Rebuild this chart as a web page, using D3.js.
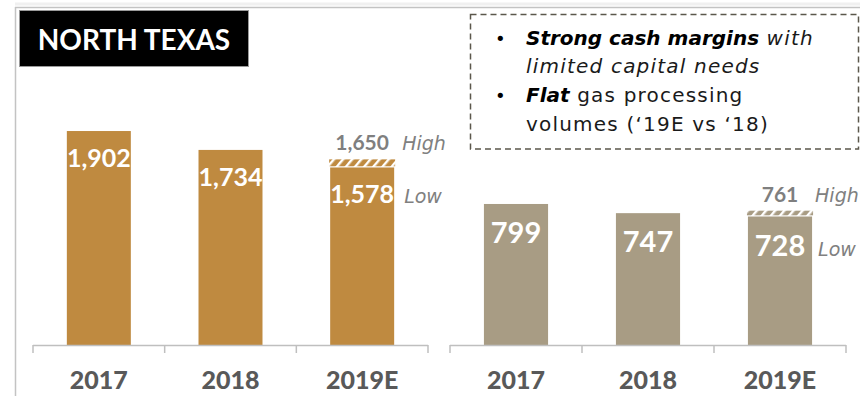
<!DOCTYPE html>
<html>
<head>
<meta charset="utf-8">
<script src="https://cdn.jsdelivr.net/npm/d3@7"></script>
<style>
  body { margin: 0; background: #fff; }
  svg { display: block; font-family: Lato, "Open Sans", sans-serif; }
</style>
</head>
<body>
<div id="chart"></div>
<script>
// chart values
const years = ["2017", "2018", "2019E"];
const leftValues = [1902, 1734, 1578];
const leftHigh = 1650;
const rightValues = [799, 747, 728];
const rightHigh = 761;
const bullets = [
  [{t: "Strong cash margins", b: true, i: true}, {t: " with", i: true}],
  [{t: "limited capital needs", i: true}],
  [{t: "Flat", b: true, i: true}, {t: " gas processing"}],
  [{t: "volumes (\u201819E vs \u201818)"}]
];

const W = 860, H = 396;
const baseY = 345;
const thinFont = "'DejaVu Sans', sans-serif";

let svg = d3.select("#chart").append("svg")
  .attr("width", W).attr("height", H);

svg.append("rect").attr("width", W).attr("height", H).attr("fill", "#fff");

// hatch pattern for the high range
function hatch(id, color) {
  let p = svg.append("defs").append("pattern")
    .attr("id", id)
    .attr("patternUnits", "userSpaceOnUse")
    .attr("width", 7).attr("height", 7)
    .attr("patternTransform", "rotate(40)");
  p.append("rect").attr("width", 7).attr("height", 7).attr("fill", color);
  p.append("rect").attr("x", 0).attr("width", 2.4).attr("height", 7).attr("fill", "#fff");
}
hatch("hatchL", "#bf8a40");
hatch("hatchR", "#a89c84");

// frame
svg.append("line").attr("x1", 15).attr("x2", W).attr("y1", 4).attr("y2", 4)
  .attr("stroke", "#f0f0f0").attr("stroke-width", 3);
svg.append("line").attr("x1", 15).attr("x2", W).attr("y1", 7.5).attr("y2", 7.5)
  .attr("stroke", "#c3c3c3").attr("stroke-width", 1.5);
svg.append("line").attr("x1", 15.5).attr("x2", 15.5).attr("y1", 7).attr("y2", H)
  .attr("stroke", "#c3c3c3").attr("stroke-width", 1.5);

// title box
svg.append("rect").attr("x", 19.5).attr("y", 10.5).attr("width", 229).attr("height", 56)
  .attr("fill", "#000").attr("stroke", "#9a9a9a").attr("stroke-width", 1);
svg.append("text").attr("x", 134).attr("y", 50)
  .attr("text-anchor", "middle")
  .attr("fill", "#fff").attr("font-weight", "bold").attr("font-size", 28)
  .text("NORTH TEXAS");

// dashed box with notes
svg.append("rect").attr("x", 470.5).attr("y", 14.5).attr("width", 388).attr("height", 134.5)
  .attr("fill", "none").attr("stroke", "#5b574b").attr("stroke-width", 1.5)
  .attr("stroke-dasharray", "6,4");

let noteLines = [45, 73, 102, 131];
bullets.forEach((parts, k) => {
  if (k === 0 || k === 2) {
    svg.append("text").attr("x", 495).attr("y", noteLines[k])
      .attr("font-family", thinFont)
      .attr("font-size", 18).attr("fill", "#000").text("\u2022");
  }
  let t = svg.append("text").attr("x", 526).attr("y", noteLines[k])
    .attr("font-family", thinFont)
    .attr("font-size", 20).attr("fill", "#1a1a1a");
  parts.forEach(p => {
    t.append("tspan")
      .attr("font-weight", p.b ? "bold" : "normal")
      .attr("font-style", p.i ? "italic" : "normal")
      .attr("letter-spacing", p.b ? 0 : 1.2)
      .attr("fill", p.b ? "#000" : "#1a1a1a")
      .text(p.t);
  });
});

// one bar panel
function panel(opts) {
  let x = d3.scaleBand().domain(years).range(opts.xr)
    .paddingInner(0.514).paddingOuter(0.257);
  let y = d3.scaleLinear().domain(opts.yd).range([baseY, opts.ytop]);
  let g = svg.append("g");
  let bw = x.bandwidth();
  let last = years[years.length - 1];

  g.selectAll(".bar").data(years).join("rect")
    .attr("x", d => x(d)).attr("width", bw)
    .attr("y", (d, i) => y(opts.values[i]))
    .attr("height", (d, i) => baseY - y(opts.values[i]))
    .attr("fill", opts.color);

  // high range hatch
  g.append("rect")
    .attr("x", x(last) - 1).attr("width", bw + 2)
    .attr("y", y(opts.high))
    .attr("height", y(opts.values[2]) - y(opts.high) - 1.2)
    .attr("fill", `url(#${opts.pat})`);

  g.selectAll(".val").data(years).join("text")
    .attr("x", d => x(d) + bw / 2)
    .attr("y", (d, i) => y(opts.values[i]) + opts.labOff)
    .attr("text-anchor", "middle").attr("fill", "#fff")
    .attr("font-weight", "bold").attr("font-size", opts.labSize)
    .text((d, i) => d3.format(",")(opts.values[i]));

  g.append("text")
    .attr("x", x(last) + bw / 2).attr("y", y(opts.high) - 9)
    .attr("text-anchor", "middle").attr("fill", "#7f7f7f")
    .attr("font-weight", "bold").attr("font-size", 21)
    .text(d3.format(",")(opts.high));
  g.append("text")
    .attr("x", x(last) + bw + opts.hiOff).attr("y", y(opts.high) - 9)
    .attr("font-family", thinFont)
    .attr("fill", "#808080").attr("font-style", "italic").attr("font-size", 19)
    .text("High");
  g.append("text")
    .attr("x", x(last) + bw + opts.loOff).attr("y", y(opts.values[2]) + opts.labOff)
    .attr("font-family", thinFont)
    .attr("fill", "#808080").attr("font-style", "italic").attr("font-size", 19)
    .text("Low");

  // axis: line + ticks at category boundaries
  let step = x.step();
  g.append("line").attr("x1", opts.xr[0]).attr("x2", opts.xr[1])
    .attr("y1", baseY + 0.5).attr("y2", baseY + 0.5)
    .attr("stroke", "#bfbfbf").attr("stroke-width", 1.5);
  g.selectAll(".tick").data(d3.range(years.length + 1)).join("line")
    .attr("x1", i => opts.xr[0] + i * step).attr("x2", i => opts.xr[0] + i * step)
    .attr("y1", baseY).attr("y2", baseY + 8)
    .attr("stroke", "#bfbfbf").attr("stroke-width", 1.5);

  g.selectAll(".yr").data(years).join("text")
    .attr("x", d => x(d) + bw / 2).attr("y", 389)
    .attr("text-anchor", "middle").attr("fill", "#595959")
    .attr("font-weight", 900).attr("font-size", 25)
    .text(d => d);
}

panel({xr: [33, 428], yd: [0, 2000], ytop: 120, values: leftValues, high: leftHigh,
  color: "#bf8a40", pat: "hatchL", labOff: 36, labSize: 25, hiOff: 8, loOff: 10});
panel({xr: [450, 846], yd: [0, 1000], ytop: 168.5, values: rightValues, high: rightHigh,
  color: "#a89c84", pat: "hatchR", labOff: 39, labSize: 29, hiOff: 3, loOff: 6});
</script>
</body>
</html>
